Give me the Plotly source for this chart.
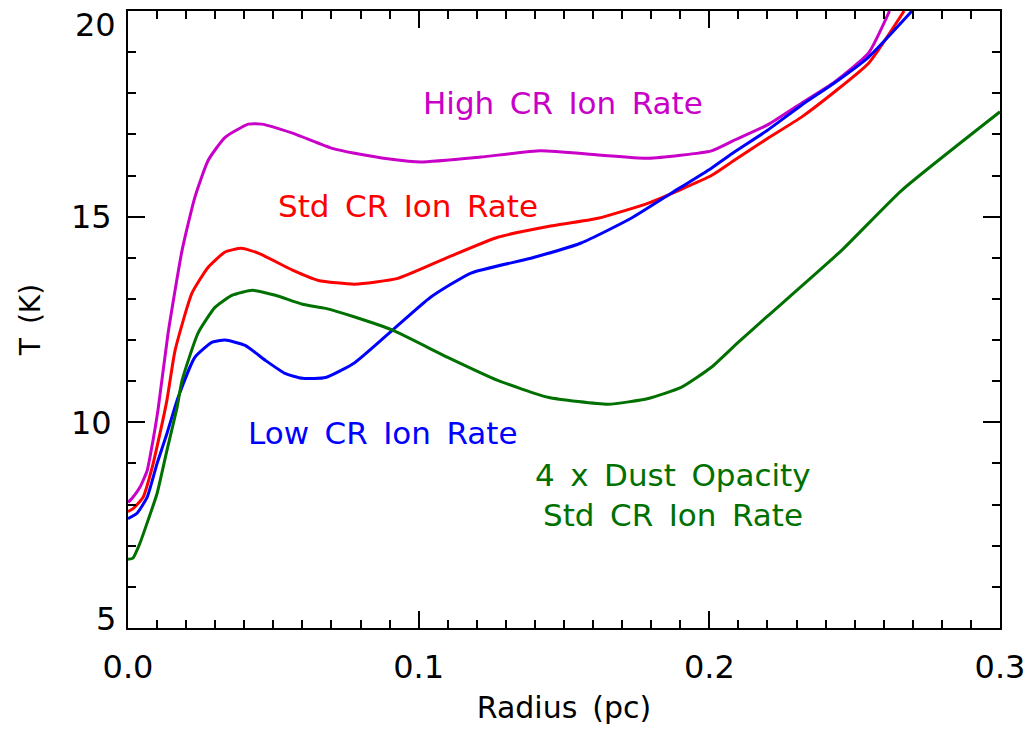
import plotly.graph_objects as go

# radius (pc) and temperature (K) for each model
high_r = [0, 0.0017, 0.0041, 0.0066, 0.0086, 0.0103, 0.0138, 0.0186, 0.023, 0.0276, 0.0334, 0.0414,
          0.046, 0.0566, 0.0703, 0.078, 0.09, 0.1007, 0.1214, 0.142, 0.1617, 0.179, 0.2007, 0.2086,
          0.22, 0.2317, 0.243, 0.2548, 0.262]
high_t = [8.05, 8.18, 8.42, 8.83, 9.56, 10.29, 12.17, 14.18, 15.47, 16.37, 16.93, 17.25,
          17.25, 17.03, 16.66, 16.54, 16.4, 16.33, 16.45, 16.6, 16.5, 16.42, 16.6, 16.86,
          17.23, 17.76, 18.27, 18.98, 20.0]

std_r = [0, 0.0017, 0.0052, 0.0083, 0.011, 0.0134, 0.0162, 0.022, 0.0276, 0.0334, 0.039, 0.045,
         0.0566, 0.0655, 0.078, 0.0928, 0.11, 0.1272, 0.1445, 0.1617, 0.179, 0.2007, 0.2086,
         0.22, 0.2317, 0.243, 0.2548, 0.267]
std_t = [7.83, 7.9, 8.18, 8.9, 9.73, 10.54, 11.75, 13.14, 13.77, 14.14, 14.23, 14.11,
         13.7, 13.45, 13.36, 13.5, 14.01, 14.5, 14.76, 14.96, 15.33, 16.0, 16.37,
         16.9, 17.42, 18.03, 18.73, 20.0]

low_r = [0, 0.0031, 0.0066, 0.01, 0.0134, 0.0172, 0.023, 0.029, 0.0334, 0.0403, 0.0472, 0.054,
         0.06, 0.068, 0.078, 0.091, 0.1041, 0.118, 0.1386, 0.1559, 0.1731, 0.1869, 0.2007,
         0.2086, 0.22, 0.2317, 0.243, 0.2548, 0.2697]
low_t = [7.66, 7.79, 8.18, 9.0, 9.73, 10.6, 11.58, 11.95, 12.0, 11.87, 11.51, 11.19,
         11.07, 11.09, 11.45, 12.24, 13.04, 13.63, 13.99, 14.36, 14.96, 15.57, 16.18,
         16.57, 17.1, 17.71, 18.25, 18.88, 20.0]

dust_r = [0, 0.0017, 0.0041, 0.0069, 0.01, 0.0134, 0.0169, 0.0186, 0.0241, 0.03, 0.0359, 0.0428,
          0.0507, 0.06, 0.068, 0.078, 0.091, 0.11, 0.1272, 0.1445, 0.1652, 0.179, 0.1903,
          0.2007, 0.21, 0.22, 0.2455, 0.2662, 0.3]
dust_t = [6.67, 6.7, 7.06, 7.62, 8.27, 9.32, 10.37, 11.02, 12.17, 12.8, 13.09, 13.21,
          13.09, 12.87, 12.77, 12.56, 12.24, 11.58, 11.02, 10.61, 10.44, 10.58, 10.85,
          11.34, 11.95, 12.58, 14.18, 15.64, 17.55]

y_ticks = [5, 10, 15, 20]

FONT = "DejaVu Sans"
SP = "\u2002"  # wider gap between words, like the vector font of the original

fig = go.Figure()
for r, t, col in [(high_r, high_t, "#c800c8"), (std_r, std_t, "#ff0000"),
                  (low_r, low_t, "#0000ff"), (dust_r, dust_t, "#007000")]:
    fig.add_trace(go.Scatter(x=r, y=t, mode="lines", line=dict(color=col, width=3, shape="spline", smoothing=0.5),
                             showlegend=False))

def label(x, y, text, col):
    fig.add_annotation(x=x, y=y, xref="x", yref="y", text=text.replace(" ", SP), showarrow=False,
                       font=dict(family=FONT, size=31, color=col))

label(0.1497, 17.76, "High CR Ion Rate", "#c800c8")
label(0.0962, 15.25, "Std CR Ion Rate", "#ff0000")
label(0.0876, 9.73, "Low CR Ion Rate", "#0000ff")
label(0.1876, 8.73, "4 x Dust Opacity", "#007000")
label(0.1876, 7.74, "Std CR Ion Rate", "#007000")

# end labels of the y axis sit inside the axis span, as in the original
for v, anchor, shift in [(y_ticks[0], "bottom", -12), (y_ticks[-1], "top", 7)]:
    fig.add_annotation(x=0, y=v, xref="paper", yref="y", text=str(v), showarrow=False,
                       xanchor="right", yanchor=anchor, xshift=-10, yshift=shift,
                       font=dict(family=FONT, size=32, color="black"))

axis = dict(showline=True, linecolor="black", linewidth=2, mirror="ticks", ticks="inside",
            ticklen=17, tickwidth=2, tickcolor="black", showgrid=False, zeroline=False,
            automargin=False, ticklabeloverflow="allow",
            tickfont=dict(family=FONT, size=32, color="black"))

fig.update_xaxes(**axis, range=[0, 0.3], dtick=0.1, tickformat=".1f", ticklabelstandoff=10,
                 minor=dict(ticks="inside", dtick=0.01, ticklen=8, tickwidth=2, tickcolor="black"),
                 title=dict(text="Radius" + SP + "(pc)", font=dict(family=FONT, size=30, color="black"),
                            standoff=12))
fig.update_yaxes(**axis, range=[5, 20], tickvals=y_ticks,
                 ticktext=["" if v in (y_ticks[0], y_ticks[-1]) else str(v) for v in y_ticks],
                 ticklabelstandoff=8,
                 minor=dict(ticks="inside", dtick=1, ticklen=8, tickwidth=2, tickcolor="black"),
                 title=dict(text="T" + SP + "(K)", font=dict(family=FONT, size=28, color="black"), standoff=22))

fig.update_layout(width=1029, height=733, plot_bgcolor="white", paper_bgcolor="white",
                  margin=dict(l=128, r=29, t=11, b=105))

fig.write_html("out.html", config={"displayModeBar": False},
               post_script="document.body.style.margin='0';")
